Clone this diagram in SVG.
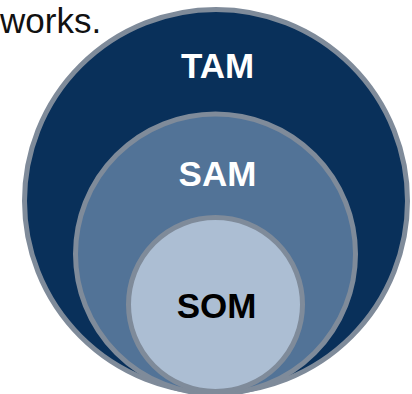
<svg xmlns="http://www.w3.org/2000/svg" width="412" height="394" viewBox="0 0 412 394">
<style>
.ring{stroke:#7f8b9a;stroke-width:5}
.lbl{font-family:"Liberation Sans",Arial,sans-serif;font-weight:bold;font-size:35px;text-anchor:middle}
</style>
<rect width="412" height="394" fill="#ffffff"/>
<text x="0" y="33" font-family="Liberation Sans, Arial, sans-serif" font-size="35" fill="#111111">works.</text>
<g id="tam">
<circle class="ring" cx="216" cy="201" r="191.5" fill="#09305a"/>
<text class="lbl" x="217.5" y="78" fill="#ffffff">TAM</text>
</g>
<g id="sam">
<circle class="ring" cx="215.5" cy="254" r="140" fill="#527397"/>
<text class="lbl" x="217.5" y="186" fill="#ffffff">SAM</text>
</g>
<g id="som">
<circle class="ring" cx="215.5" cy="304.5" r="87" fill="#acbed3"/>
<text class="lbl" x="216.5" y="318" fill="#000000">SOM</text>
</g>
<g id="connectors"/>
</svg>
